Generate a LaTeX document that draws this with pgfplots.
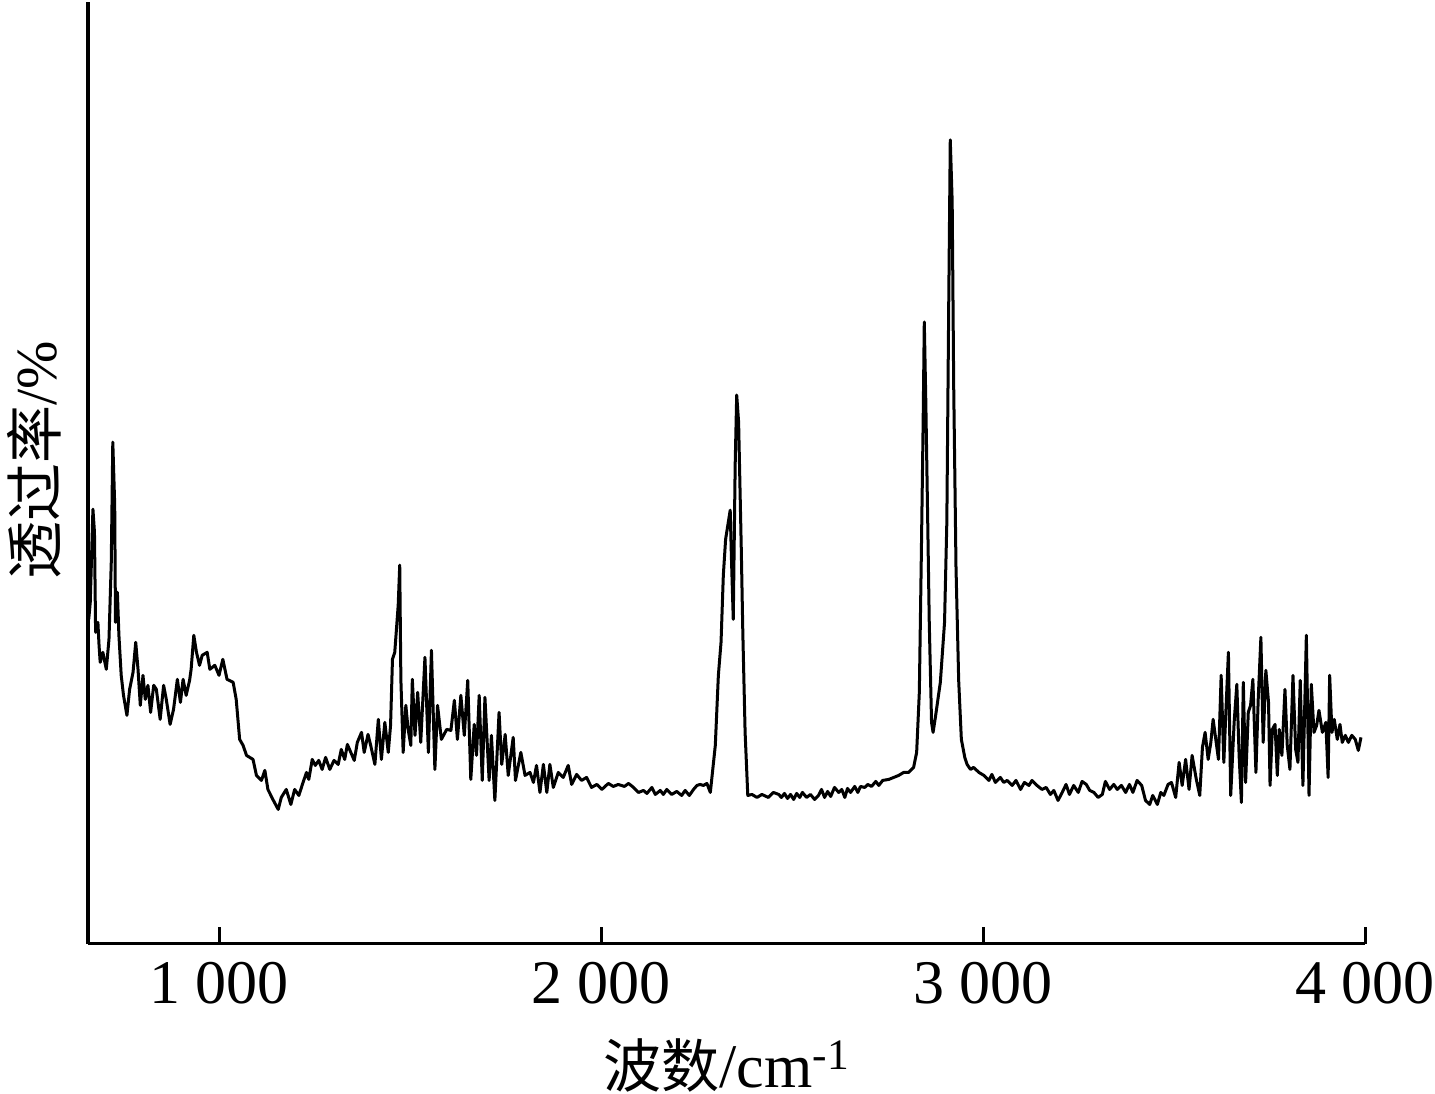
\documentclass[border=0pt]{standalone}
\usepackage{pgfplots}
\pgfplotsset{compat=1.18}
\usepackage{fontspec}
\setmainfont{Liberation Serif}
\newfontfamily\cjk{Noto Sans CJK SC}
\begin{document}
\begin{tikzpicture}
\begin{axis}[
  scale only axis, width=638pt, height=470.5pt,
  xmin=657, xmax=4000, ymin=0, ymax=941,
  axis x line=bottom, axis y line=left,
  axis line style={-, line width=1.7pt, black},
  xtick={1000,2000,3000,4000},
  xticklabels={1~000,2~000,3~000,4~000},
  ytick=\empty,
  xtick align=inside,
  major tick length=8.5pt,
  every tick/.style={black, line width=1.5pt},
  xticklabel style={font=\fontsize{31}{36}\selectfont, inner sep=0pt, yshift=-9pt},
  xlabel={{\cjk 波数}{\fontsize{31}{36}\selectfont/cm\textsuperscript{-1}}},
  ylabel={{\cjk 透过率}/\%},
  xlabel style={font=\fontsize{29}{34}\selectfont, at={(axis description cs:0.5,0)}, anchor=north, yshift=-47pt, inner xsep=0pt, inner ysep=0.5pt},
  ylabel style={font=\fontsize{29}{34}\selectfont, at={(axis description cs:0,0.5)}, anchor=center, yshift=27pt, xshift=6pt, inner xsep=0pt, inner ysep=3.5pt},
  clip=false,
]
\addplot[black, line width=1.5pt, line join=round] coordinates {
(659,324)(663,341)(670,434)(674,411)(677,311)(683,321)(686,298)(689,281)(696,291)(705,274)
(712,304)(718,381)(722,501)(727,438)(729,321)(734,351)(738,308)(744,268)(750,248)(759,228)
(766,254)(775,271)(782,301)(788,274)(794,238)(801,268)(807,244)(814,258)(821,231)(829,258)
(836,254)(846,224)(855,258)(862,244)(872,219)(881,234)(891,264)(899,241)(906,264)(914,248)
(923,263)(927,274)(934,308)(941,291)(949,278)(956,288)(969,291)(976,274)(989,278)(1000,268)
(1010,284)(1021,264)(1037,261)(1045,244)(1054,204)(1063,198)(1072,188)(1089,184)(1098,168)(1111,163)
(1120,173)(1128,154)(1141,144)(1155,134)(1163,146)(1176,154)(1188,139)(1198,154)(1209,148)(1220,161)
(1229,171)(1235,164)(1244,184)(1252,178)(1261,183)(1270,174)(1279,186)(1290,174)(1301,183)(1312,179)
(1320,194)(1329,184)(1336,199)(1345,191)(1354,183)(1362,201)(1373,211)(1380,191)(1390,209)(1397,198)
(1408,179)(1417,224)(1425,184)(1434,221)(1443,191)(1449,218)(1454,284)(1460,291)(1469,338)(1473,378)
(1476,264)(1482,191)(1489,238)(1495,214)(1502,198)(1506,264)(1513,208)(1520,251)(1528,201)(1539,286)
(1548,191)(1556,293)(1565,174)(1572,238)(1582,204)(1596,214)(1607,213)(1616,243)(1624,204)(1633,248)
(1642,208)(1651,263)(1659,164)(1668,219)(1674,188)(1681,248)(1689,163)(1696,246)(1707,163)(1713,208)
(1722,143)(1733,231)(1740,179)(1749,209)(1757,168)(1770,206)(1776,163)(1790,191)(1801,168)(1814,171)
(1823,161)(1831,178)(1840,151)(1849,179)(1858,151)(1866,179)(1875,156)(1888,171)(1901,166)(1914,178)
(1923,159)(1936,169)(1949,163)(1962,166)(1975,156)(1989,159)(2002,154)(2019,160)(2032,157)(2045,159)
(2061,157)(2072,160)(2085,156)(2098,151)(2111,153)(2120,150)(2133,156)(2142,149)(2155,153)(2163,149)
(2172,154)(2185,149)(2198,152)(2211,148)(2220,153)(2231,148)(2242,154)(2251,158)(2259,159)(2268,158)
(2277,160)(2286,151)(2299,198)(2307,268)(2314,301)(2320,368)(2326,404)(2338,433)(2341,388)(2346,324)
(2351,478)(2355,548)(2360,521)(2367,394)(2371,311)(2377,211)(2384,148)(2395,149)(2408,146)(2421,149)
(2438,146)(2451,151)(2465,149)(2472,146)(2480,150)(2488,145)(2496,149)(2504,144)(2512,150)(2520,146)
(2527,151)(2538,146)(2548,149)(2559,144)(2569,148)(2577,154)(2585,146)(2593,152)(2601,147)(2611,156)
(2622,151)(2630,154)(2638,146)(2645,155)(2653,151)(2664,157)(2672,151)(2679,157)(2690,156)(2698,159)
(2708,157)(2719,162)(2727,158)(2737,163)(2753,164)(2779,168)(2792,171)(2805,171)(2818,176)(2826,191)
(2833,251)(2838,381)(2843,521)(2846,621)(2850,541)(2855,421)(2859,321)(2865,221)(2869,211)(2875,226)
(2888,261)(2899,321)(2905,421)(2910,641)(2914,803)(2919,741)(2923,556)(2929,376)(2936,263)(2943,204)
(2952,186)(2958,179)(2967,174)(2975,176)(2989,171)(3002,168)(3015,163)(3023,169)(3032,161)(3045,166)
(3054,161)(3063,163)(3076,158)(3086,163)(3098,154)(3108,161)(3120,158)(3128,163)(3141,158)(3154,154)
(3165,156)(3176,149)(3185,153)(3196,143)(3207,151)(3217,159)(3226,149)(3237,158)(3249,151)(3259,162)
(3270,159)(3279,153)(3290,151)(3301,146)(3312,149)(3320,162)(3331,154)(3342,159)(3351,154)(3362,158)
(3373,151)(3383,159)(3392,151)(3403,163)(3415,158)(3425,143)(3436,139)(3444,148)(3456,139)(3465,151)
(3473,148)(3484,159)(3493,161)(3504,146)(3513,181)(3521,158)(3530,184)(3539,154)(3547,188)(3558,164)
(3567,148)(3574,196)(3581,211)(3589,184)(3596,201)(3602,224)(3610,201)(3616,184)(3623,268)(3630,181)
(3635,228)(3642,291)(3648,148)(3657,221)(3664,259)(3670,188)(3676,141)(3681,261)(3687,161)(3694,231)
(3700,238)(3706,264)(3714,171)(3720,244)(3727,306)(3733,201)(3740,273)(3747,241)(3751,158)(3757,214)
(3764,219)(3770,168)(3775,214)(3782,188)(3790,254)(3796,198)(3803,174)(3811,268)(3818,194)(3824,181)
(3830,263)(3837,158)(3846,308)(3853,148)(3859,259)(3866,211)(3873,218)(3879,233)(3888,211)(3897,221)
(3903,166)(3907,268)(3913,211)(3919,224)(3927,204)(3934,219)(3940,201)(3948,208)(3956,201)(3965,208)
(3974,204)(3982,193)(3989,206)
};
\end{axis}
\end{tikzpicture}
\end{document}
